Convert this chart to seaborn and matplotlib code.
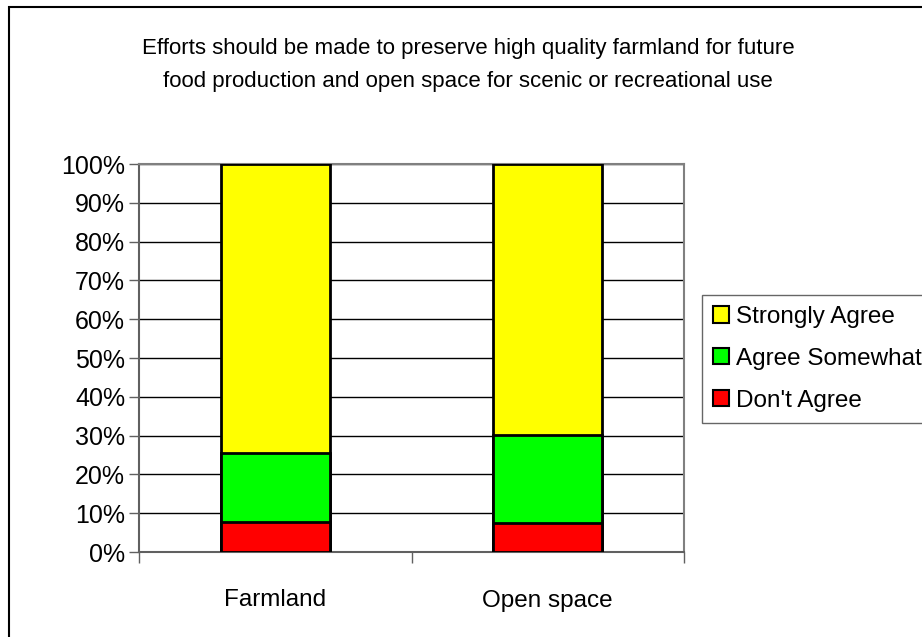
import matplotlib
matplotlib.use("Agg")
import matplotlib.pyplot as plt
from matplotlib.patches import Patch, Rectangle
from matplotlib.ticker import MultipleLocator, PercentFormatter, FixedLocator
import numpy as np
import pandas as pd
import seaborn as sns

# Survey responses (percent of respondents)
categories = ["Farmland", "Open space"]
dont_agree = [7.7, 7.4]
agree_somewhat = [17.7, 22.7]
strongly_agree = [74.6, 69.9]

series_names = ["Strongly Agree", "Agree Somewhat", "Don't Agree"]
series_colors = ["#FFFF00", "#00FF00", "#FF0000"]

sns.set_theme(style="white")
plt.rcParams["font.family"] = ["Liberation Sans", "DejaVu Sans"]
plt.rcParams["text.color"] = "black"

# cumulative tops, drawn tallest first so lower segments overlay
low = np.array(dont_agree)
mid = low + np.array(agree_somewhat)
top = mid + np.array(strongly_agree)
df = pd.DataFrame({
    "category": categories * 3,
    "top": np.concatenate([top, mid, low]),
    "series": np.repeat(series_names, len(categories)),
})

fig = plt.figure(figsize=(9.22, 6.37), dpi=100)
ax = fig.add_axes([139 / 922, 1 - 552 / 637, (684 - 139) / 922, (552 - 164) / 637])

for name, color in zip(series_names, series_colors):
    sub = df[df["series"] == name]
    sns.barplot(data=sub, x="category", y="top", color=color, width=0.4,
                edgecolor="black", linewidth=2, saturation=1, ax=ax, zorder=3)

ax.set_xlim(-0.5, 1.5)
ax.set_ylim(0, 100)
ax.yaxis.set_major_locator(MultipleLocator(10))
ax.yaxis.set_major_formatter(PercentFormatter(decimals=0))
ax.grid(axis="y", color="black", linewidth=1, zorder=0)
ax.set_axisbelow(True)
ax.set_xlabel("")
ax.set_ylabel("")

for side in ["top", "right"]:
    ax.spines[side].set_color("#808080")
    ax.spines[side].set_linewidth(1.5)
for side in ["left", "bottom"]:
    ax.spines[side].set_color("#606060")
    ax.spines[side].set_linewidth(1.5)

ax.tick_params(axis="y", which="major", left=True, length=7, width=1,
               color="#606060", labelsize=18, pad=3, labelcolor="black")
ax.xaxis.set_minor_locator(FixedLocator([-0.5, 0.5, 1.5]))
ax.tick_params(axis="x", which="minor", bottom=True, length=8, width=1, color="#606060")
ax.tick_params(axis="x", which="major", bottom=False, labelsize=17.5, pad=21,
               labelcolor="black")

handles = [Patch(facecolor=c, edgecolor="black", linewidth=1.5, label=n)
           for n, c in zip(series_names, series_colors)]
leg = fig.legend(handles=handles, loc="upper left",
                 bbox_to_anchor=(702 / 922, 1 - 295 / 637), frameon=True,
                 fontsize=17.5, handlelength=0.65, handleheight=0.65,
                 handletextpad=0.3, labelspacing=0.82, borderpad=0.45,
                 borderaxespad=0, fancybox=False)
leg.get_frame().set_edgecolor("#404040")
leg.get_frame().set_linewidth(1)

fig.text(468 / 922, 1 - 65 / 637,
         "Efforts should be made to preserve high quality farmland for future\n"
         "food production and open space for scenic or recreational use",
         ha="center", va="center", fontsize=16, linespacing=1.75)

# chart frame (only left and top edges fall inside the image)
fig.patches.append(Rectangle((9 / 922, -0.05), 1.0, 1 - 7 / 637 + 0.05,
                             transform=fig.transFigure, fill=False,
                             edgecolor="black", linewidth=1.5))

fig.savefig("out.png", dpi=100)
